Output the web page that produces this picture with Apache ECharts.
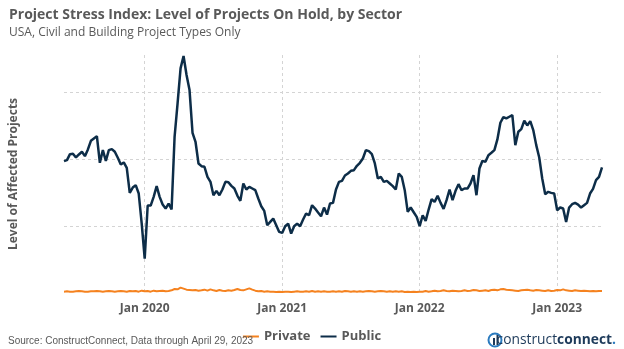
<!DOCTYPE html>
<html>
<head>
<meta charset="utf-8">
<script src="https://cdn.jsdelivr.net/npm/echarts@6/dist/echarts.min.js"></script>
<style>
  html, body { margin: 0; padding: 0; background: #ffffff; }
  #chart { width: 624px; height: 349px; }
</style>
</head>
<body>
<div id="chart"></div>
<script>
// Level of projects on hold, sampled along the timeline (index units, not labelled on the axis)
const publicLevel = [
  1.975, 1.99, 2.08, 2.085, 2.03, 2.075, 2.115, 2.05, 2.15, 2.28,
  2.315, 2.35, 1.95, 2.14, 1.98, 2.14, 2.155, 2.115, 2.025, 1.925,
  1.955, 1.875, 1.5, 1.58, 1.615, 1.49, 1.04, 0.515, 1.31, 1.31,
  1.44, 1.6, 1.44, 1.325, 1.265, 1.34, 1.25, 2.34, 2.84, 3.365,
  3.55, 3.265, 3.04, 2.4, 2.265, 1.94, 1.9, 1.89, 1.74, 1.665,
  1.465, 1.53, 1.465, 1.55, 1.665, 1.66, 1.605, 1.565, 1.46, 1.38,
  1.64, 1.55, 1.59, 1.565, 1.54, 1.415, 1.3, 1.23, 1.015, 1.065,
  1.115, 1.015, 0.915, 0.9, 1.0, 1.04, 0.89, 1.0, 1.04, 1.0,
  1.1, 1.19, 1.165, 1.315, 1.265, 1.205, 1.15, 1.28, 1.175, 1.34,
  1.35, 1.55, 1.665, 1.68, 1.76, 1.79, 1.83, 1.84, 1.905, 1.95,
  2.015, 2.14, 2.125, 2.08, 1.94, 1.715, 1.74, 1.665, 1.68, 1.64,
  1.6, 1.55, 1.79, 1.74, 1.54, 1.215, 1.28, 1.21, 1.14, 1.0,
  1.165, 1.08, 1.25, 1.405, 1.365, 1.455, 1.35, 1.26, 1.39, 1.55,
  1.39, 1.53, 1.63, 1.54, 1.565, 1.565, 1.64, 1.765, 1.465, 1.865,
  1.98, 1.965, 2.065, 2.1, 2.14, 2.3, 2.55, 2.635, 2.615, 2.64,
  2.665, 2.215, 2.415, 2.455, 2.58, 2.51, 2.575, 2.44, 2.215, 2.03,
  1.715, 1.48, 1.515, 1.5, 1.49, 1.24, 1.28, 1.265, 1.065, 1.28,
  1.33, 1.35, 1.325, 1.28, 1.315, 1.35, 1.49, 1.56, 1.69, 1.74, 1.88
];

const privateLevel = [
  0.02, 0.025, 0.02, 0.02, 0.025, 0.03, 0.025, 0.02, 0.02, 0.025,
  0.025, 0.03, 0.025, 0.02, 0.025, 0.03, 0.025, 0.02, 0.025, 0.03,
  0.025, 0.02, 0.03, 0.025, 0.03, 0.02, 0.035, 0.025, 0.03, 0.02,
  0.035, 0.025, 0.03, 0.035, 0.025, 0.03, 0.04, 0.06, 0.055, 0.08,
  0.065, 0.05, 0.045, 0.04, 0.045, 0.035, 0.04, 0.05, 0.035, 0.055,
  0.04, 0.03, 0.045, 0.035, 0.03, 0.04, 0.035, 0.045, 0.06, 0.045,
  0.04, 0.055, 0.07, 0.05, 0.035, 0.025, 0.03, 0.02, 0.025, 0.02,
  0.02, 0.015, 0.02, 0.015, 0.02, 0.02, 0.015, 0.02, 0.025, 0.02,
  0.02, 0.025, 0.02, 0.03, 0.02, 0.025, 0.02, 0.025, 0.02, 0.02,
  0.025, 0.02, 0.025, 0.02, 0.03, 0.025, 0.02, 0.025, 0.02, 0.025,
  0.02, 0.025, 0.03, 0.025, 0.02, 0.025, 0.03, 0.025, 0.02, 0.025,
  0.02, 0.025, 0.02, 0.025, 0.015, 0.02, 0.015, 0.02, 0.015, 0.02,
  0.02, 0.03, 0.02, 0.025, 0.035, 0.025, 0.03, 0.04, 0.03, 0.025,
  0.035, 0.03, 0.025, 0.03, 0.04, 0.03, 0.035, 0.045, 0.04, 0.03,
  0.035, 0.04, 0.03, 0.045, 0.05, 0.04, 0.055, 0.06, 0.05, 0.045,
  0.04, 0.035, 0.03, 0.04, 0.045, 0.05, 0.04, 0.035, 0.045, 0.04,
  0.035, 0.03, 0.04, 0.03, 0.035, 0.045, 0.04, 0.055, 0.04, 0.035,
  0.03, 0.04, 0.035, 0.03, 0.035, 0.03, 0.025, 0.03, 0.025, 0.03, 0.03
];

// Year markers: label text and the sample each one sits on
const tickLabels = ['Jan 2020', 'Jan 2021', 'Jan 2022', 'Jan 2023'];
const tickIndex = [27, 73, 119, 165];

const seriesNames = ['Private', 'Public'];
const seriesColors = ['#f5821f', '#0d2d48'];

const categories = publicLevel.map((_, i) => String(i));
const isTick = (i) => tickIndex.indexOf(i) !== -1;

const textGray = '#595959';
const gridGray = '#d4d4d4';

const chart = echarts.init(document.getElementById('chart'), null, { renderer: 'canvas' });

chart.setOption({
  animation: false,
  backgroundColor: '#ffffff',
  title: [
    {
      text: 'Project Stress Index: Level of Projects On Hold, by Sector',
      left: 4, top: 3,
      textStyle: { fontFamily: 'Open Sans', fontWeight: 'bold', fontSize: 14, color: textGray }
    },
    {
      text: 'USA, Civil and Building Project Types Only',
      left: 4, top: 22,
      textStyle: { fontFamily: 'Open Sans', fontWeight: 'normal', fontSize: 12, color: textGray }
    },
    {
      text: 'Source: ConstructConnect, Data through April 29, 2023',
      left: 3, top: 331,
      textStyle: { fontFamily: 'Liberation Sans', fontWeight: 'normal', fontSize: 10, color: textGray }
    },
    {
      text: '{a|construct}{b|connect}{c|.}',
      right: 3, top: 328,
      textStyle: {
        rich: {
          a: { fontFamily: 'Open Sans', fontSize: 13.8, fontWeight: 'normal', color: '#1d3a5a' },
          b: { fontFamily: 'Open Sans', fontSize: 13.8, fontWeight: 'bold', color: '#1d3a5a' },
          c: { fontFamily: 'Open Sans', fontSize: 13.8, fontWeight: 'bold', color: '#2b7bbf' }
        }
      }
    }
  ],
  graphic: [
    {
      type: 'group', left: 486, top: 331,
      children: [
        { type: 'circle', shape: { cx: 7, cy: 8, r: 6.5 }, style: { fill: 'none', stroke: '#2b7bbf', lineWidth: 2 } },
        { type: 'rect', shape: { x: 5, y: 6, width: 2, height: 7 }, style: { fill: '#1d3a5a' } },
        { type: 'rect', shape: { x: 8.5, y: 3, width: 2, height: 10 }, style: { fill: '#1d3a5a' } }
      ]
    }
  ],
  legend: {
    data: seriesNames,
    left: 'center', top: 325,
    itemWidth: 16, itemHeight: 10, itemGap: 10,
    icon: 'path://M0,4 L16,4 L16,6 L0,6 Z',
    textStyle: { fontFamily: 'Open Sans', fontWeight: 'bold', fontSize: 13, color: textGray }
  },
  grid: { left: 62, right: 22, top: 55, bottom: 56, containLabel: false },
  xAxis: {
    type: 'category',
    data: categories,
    boundaryGap: false,
    axisLine: { show: false },
    axisTick: { show: false },
    axisLabel: {
      interval: (i) => isTick(i),
      formatter: (v, i) => tickLabels[tickIndex.indexOf(Number(v))] || '',
      margin: 10,
      fontFamily: 'Open Sans', fontWeight: 'bold', fontSize: 12, color: textGray
    },
    splitLine: {
      show: true,
      interval: (i) => isTick(i),
      lineStyle: { color: gridGray, type: [3, 3], width: 1 }
    }
  },
  yAxis: {
    type: 'value',
    min: 0, max: 3.565, interval: 1,
    name: 'Level of Affected Projects',
    nameLocation: 'middle',
    nameRotate: 90,
    nameGap: 44,
    nameTextStyle: { fontFamily: 'Open Sans', fontWeight: 'bold', fontSize: 12, color: textGray },
    axisLine: { show: false },
    axisTick: { show: false },
    axisLabel: { show: false },
    splitLine: {
      show: true,
      showMinLine: false,
      showMaxLine: false,
      lineStyle: { color: gridGray, type: [3, 3], width: 1 }
    }
  },
  series: [
    {
      name: seriesNames[0], type: 'line', data: privateLevel,
      symbol: 'none', clip: false,
      lineStyle: { color: seriesColors[0], width: 2 },
      itemStyle: { color: seriesColors[0] }
    },
    {
      name: seriesNames[1], type: 'line', data: publicLevel,
      symbol: 'none', clip: false,
      lineStyle: { color: seriesColors[1], width: 2.5 },
      itemStyle: { color: seriesColors[1] }
    }
  ]
});
</script>
</body>
</html>
